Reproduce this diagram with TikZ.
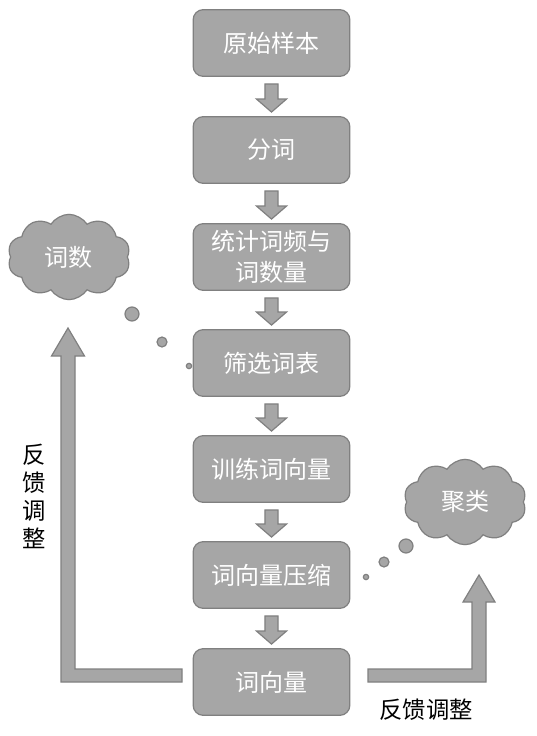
\documentclass[tikz,border=0pt]{standalone}
\usepackage{fontspec}
\setmainfont{Noto Sans CJK SC}
\usetikzlibrary{shapes.symbols,calc}
\definecolor{boxfill}{HTML}{A6A6A6}
\definecolor{boxline}{HTML}{808080}
\tikzset{
  stepbox/.style={draw=boxline, fill=boxfill, line width=0.9pt, rounded corners=7.5pt,
    minimum width=117.5pt, minimum height=50pt, text=white, align=center,
    font=\fontsize{18pt}{23pt}\selectfont, inner sep=0pt},
  cloudbox/.style={cloud, cloud puffs=10, cloud puff arc=115, cloud ignores aspect, draw=boxline, fill=boxfill,
    line width=0.9pt, minimum width=92pt, minimum height=64pt, text=white,
    font=\fontsize{18pt}{23pt}\selectfont, inner sep=0pt},
  bubble/.style={draw=boxline, fill=boxfill, line width=0.9pt, circle, inner sep=0pt},
  bigarrow/.style={draw=boxline, fill=boxfill, line width=0.9pt},
  sidetext/.style={text=black, font=\fontsize{17.5pt}{22pt}\selectfont, inner sep=0pt, align=center}
}
\newcommand\flowarrow[2]{%
  \filldraw[bigarrow] let \p1=(#1.south), \p2=(#2.north) in
    (\x1-4.9pt,\y1-5.25pt) -- (\x1+4.9pt,\y1-5.25pt) -- (\x1+4.9pt,\y2+12.75pt)
    -- (\x1+11.25pt,\y2+12.75pt) -- (\x1,\y2+3pt) -- (\x1-11.25pt,\y2+12.75pt)
    -- (\x1-4.9pt,\y2+12.75pt) -- cycle;}
\begin{document}
\begin{tikzpicture}[x=0.75pt,y=-0.75pt]
\useasboundingbox (0,0) rectangle (536,736);
\node[stepbox] (s1) at (271.5,43) {原始样本};
\node[stepbox] (s2) at (271.5,150) {分词};
\node[stepbox] (s3) at (271.5,257) {统计词频与\\词数量};
\node[stepbox] (s4) at (271.5,363) {筛选词表};
\node[stepbox] (s5) at (271.5,469) {训练词向量};
\node[stepbox] (s6) at (271.5,575) {词向量压缩};
\node[stepbox] (s7) at (271.5,682) {词向量};
\flowarrow{s1}{s2}
\flowarrow{s2}{s3}
\flowarrow{s3}{s4}
\flowarrow{s4}{s5}
\flowarrow{s5}{s6}
\flowarrow{s6}{s7}
% clouds
\node[cloudbox] (c1) at (69,257) {词数};
\node[cloudbox] (c2) at (465,502) {聚类};
\node[bubble, minimum size=10.5pt] (b1) at (132,314) {};
\node[bubble, minimum size=7.5pt] (b2) at (162,342) {};
\node[bubble, minimum size=4pt] (b3) at (189,366) {};
\node[bubble, minimum size=10.5pt] (b4) at (406,546) {};
\node[bubble, minimum size=7.5pt] (b5) at (384,562) {};
\node[bubble, minimum size=4pt] (b6) at (366,577) {};
% feedback arrows
\filldraw[bigarrow] (182,669) -- (75,669) -- (75,356) -- (84.5,356) -- (68,328) -- (51.5,356)
  -- (61,356) -- (61,682) -- (182,682) -- cycle;
\filldraw[bigarrow] (368,669) -- (472,669) -- (472,602) -- (463,602) -- (479,575) -- (495,602)
  -- (486,602) -- (486,682) -- (368,682) -- cycle;
\node[sidetext] (t1) at (34,496) {反\\[-1pt]馈\\[-1pt]调\\[-1pt]整};
\node[sidetext] (t2) at (426,710) {反馈调整};
\end{tikzpicture}
\end{document}
